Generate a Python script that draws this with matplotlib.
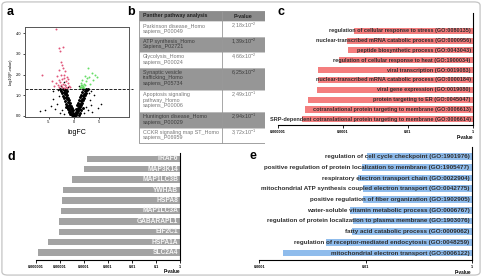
import matplotlib
matplotlib.use('Agg')
import matplotlib.pyplot as plt
from matplotlib.patches import Rectangle, FancyBboxPatch

plt.rcParams['font.family'] = ['Liberation Sans', 'DejaVu Sans']
plt.rcParams['mathtext.fontset'] = 'custom'
plt.rcParams['mathtext.rm'] = 'Liberation Sans'

W, H = 482, 277

# ---- a: volcano plot
black_x = [-0.2, -0.4, -0.6, -0.3, -0.8, -0.5, -1.0, -0.7, -1.2, -0.9, -1.4, -0.6, -1.1, -1.6, -0.8, -1.3,
           -1.8, -1.0, -1.5, -2.0, -1.2, -1.7, -2.2, -1.4, -1.9, -2.4, -1.6, -2.1, -2.6, -1.8, -2.3, -2.8,
           -1.5, -2.0, -0.3, -0.5, -1.1, -1.3, -0.9, -1.6,
           0.2, 0.4, 0.6, 0.3, 0.8, 0.5, 1.0, 0.7, 1.2, 0.9, 1.4, 0.6, 1.1, 1.6, 0.8, 1.3,
           1.8, 1.0, 1.5, 2.0, 1.2, 1.7, 2.2, 1.4, 1.9, 2.4, 1.6, 2.1, 2.6, 1.8, 2.3, 2.8,
           0.1, -0.1, 0.0, 0.3, 1.1, 1.4, 0.9, 1.7]
black_y = [0.02, 0.05, 0.10, 0.15, 0.20, 0.25, 0.30, 0.35, 0.40, 0.45, 0.50, 0.50, 0.55, 0.60, 0.62, 0.68,
           0.72, 0.75, 0.80, 0.85, 0.88, 0.92, 0.98, 1.00, 1.05, 1.10, 1.12, 1.18, 1.22, 1.25, 1.28, 1.30,
           1.20, 1.30, 0.30, 0.40, 0.20, 0.35, 0.10, 0.45,
           0.03, 0.06, 0.12, 0.18, 0.22, 0.28, 0.32, 0.38, 0.42, 0.48, 0.52, 0.55, 0.58, 0.62, 0.65, 0.70,
           0.75, 0.78, 0.82, 0.88, 0.90, 0.95, 1.00, 1.02, 1.08, 1.12, 1.15, 1.20, 1.25, 1.28, 1.30, 1.32,
           0.08, 0.10, 0.00, 0.35, 0.15, 0.30, 0.05, 0.40]
scatter_x = [-5.8, -4.3, -4.2, -4.6, 4.7, 3.1, 3.9, 2.7, -3.5, -3.0, -3.8, -2.9, 3.4, 2.9, 3.6, -1.8,
             -2.1, -2.6, -1.2, 1.0, -6.8, 5.4, -3.3, 3.3, -2.4, 2.3, -2.0, 2.0]
scatter_y = [0.29, 0.82, 1.20, 0.47, 0.37, 0.77, 0.99, 0.29, 0.60, 0.95, 0.35, 0.15, 0.55, 1.10, 0.20, 1.49,
             1.65, 1.45, 1.40, 1.45, 0.25, 0.60, 1.25, 1.20, 0.30, 0.45, 0.10, 0.15]
red_x = [-3.6, -3.1, -2.3, -2.9, -6.4, -2.5, -2.2, -3.0, -1.8, -2.7, -3.4, -1.5, -2.0, -2.4, -3.1, -1.7,
         -2.8, -1.3, -2.2, -3.6, -1.9, -2.6, -1.1, -1.6, -2.4, -3.0, -1.4, -2.0, -4.0, -3.3, -1.2, -0.9,
         -2.6, -2.1, -4.4]
red_y = [4.18, 3.29, 3.35, 3.15, 1.98, 2.45, 2.30, 2.20, 2.15, 2.00, 1.95, 1.90, 1.85, 1.80, 1.75, 1.70,
         1.65, 1.60, 1.55, 1.60, 1.50, 1.48, 1.45, 1.42, 1.40, 1.38, 1.36, 1.35, 1.45, 1.50, 1.80, 1.38,
         2.60, 2.00, 1.70]
green_x = [1.2, 1.4, 1.6, 1.8, 1.3, 1.5, 1.7, 2.0, 1.1, 1.9, 2.2, 1.4, 2.4, 3.0, 3.5, 2.8, 4.2, 2.6,
           3.8, 2.1, 1.6, 4.6, 3.2]
green_y = [1.35, 1.40, 1.38, 1.42, 1.48, 1.52, 1.45, 1.36, 1.42, 1.55, 1.50, 1.60, 1.70, 1.90, 2.10, 2.30,
           2.00, 1.85, 1.75, 1.95, 1.75, 1.90, 1.55]
p_cut = 1.3

# ---- b: table
pathways = ['Parkinson disease_Homo\nsapiens_P00049', 'ATP synthesis_Homo\nSapiens_P02721',
            'Glycolysis_Homo\nsapiens_P00024', 'Synaptic vesicle\ntrafficking_Homo\nsapiens_P05734',
            'Apoptosis signaling\npathway_Homo\nsapiens_P00006', 'Huntington disease_Homo\nsapiens_P00029',
            'CCKR signaling map ST_Homo\nsapiens_P06959']
path_p = ['2,18x10$^{\\mathregular{-2}}$', '1,39x10$^{\\mathregular{-2}}$', '4,66x10$^{\\mathregular{-2}}$',
          '6,25x10$^{\\mathregular{-2}}$', '2,49x10$^{\\mathregular{-1}}$', '2,94x10$^{\\mathregular{-1}}$',
          '3,72x10$^{\\mathregular{-1}}$']

# ---- c: GO terms (red)
c_terms = ['regulation of cellular response to stress (GO:0080135)',
           'nuclear-transcribed mRNA catabolic process (GO:0000956)',
           'peptide biosynthetic process (GO:0043043)',
           'regulation of cellular response to heat (GO:1900034)',
           'viral transcription (GO:0019083)',
           'nuclear-transcribed mRNA catabolic process (GO:0000184)',
           'viral gene expression (GO:0019080)',
           'protein targeting to ER (GO:0045047)',
           'cotranslational protein targeting to membrane (GO:0006613)',
           'SRP-dependent cotranslational protein targeting to membrane (GO:0006614)']
c_pvals = [2.2e-4, 1.3e-4, 1.4e-4, 7.8e-5, 1.7e-5, 1.65e-5, 1.55e-5, 8.5e-6, 6.9e-6, 5.6e-6]

# ---- d: genes (gray)
d_genes = ['TRAF6', 'MAP3K14', 'MAP1LC3B', 'YWHAB', 'HSPA8', 'MAP1LC3A', 'GABARAPL1', 'EIF2C1', 'HSPA1A', 'SLC2A4']
d_pvals = [1.4e-4, 1.05e-4, 3.1e-5, 1.3e-5, 1.25e-5, 1.1e-5, 9.5e-6, 9.3e-6, 3.3e-6, 1.25e-6]

# ---- e: GO terms (blue)
e_terms = ['regulation of cell cycle checkpoint (GO:1901976)',
           'positive regulation of protein localization to membrane (GO:1905477)',
           'respiratory electron transport chain (GO:0022904)',
           'mitochondrial ATP synthesis coupled electron transport (GO:0042775)',
           'positive regulation of fiber organization (GO:1902905)',
           'water-soluble vitamin metabolic process (GO:0006767)',
           'regulation of protein localization to plasma membrane (GO:1903076)',
           'fatty acid catabolic process (GO:0009062)',
           'regulation of receptor-mediated endocytosis (GO:0048259)',
           'mitochondrial electron transport (GO:0006122)']
e_pvals = [1.05e-2, 8.5e-3, 7.2e-3, 9.1e-3, 8.9e-3, 5.1e-3, 5.9e-3, 5.6e-3, 1.8e-3, 2.8e-4]


def px_axes(fig, x0, y0, x1, y1):
    return fig.add_axes([x0 / W, 1 - y1 / H, (x1 - x0) / W, (y1 - y0) / H])


fig = plt.figure(figsize=(W / 100, H / 100), dpi=100)
fig.patches.append(FancyBboxPatch((0.004, 0.007), 0.992, 0.986, boxstyle='round,pad=0,rounding_size=0.012',
                                  transform=fig.transFigure, fill=False, ec='#c4c4c4', lw=0.9))

for lab, x, y in [('a', 10, 12), ('b', 131, 12), ('c', 281, 12), ('d', 11.5, 156.5), ('e', 253, 156)]:
    fig.text(x / W, 1 - y / H, lab, fontsize=9, fontweight='bold', ha='center', va='center')

# a
ax = px_axes(fig, 25, 27, 129.3, 117)
ax.scatter(black_x, black_y, s=4.5, c='black', lw=0)
ax.scatter(scatter_x, scatter_y, s=1.4, c='black', lw=0)
ax.scatter(red_x, red_y, s=2, c='#e0557a', lw=0)
ax.scatter(green_x, green_y, s=2, c='#66dd66', lw=0)
ax.axhline(p_cut, xmax=1.04, ls='--', color='black', lw=0.6, clip_on=False)
ax.set_xlim(-9.8, 11.05)
ax.set_ylim(-0.05, 4.3)
ax.set_xticks([-5, 0, 5])
ax.set_xticklabels(['-5', '0', '5'])
ax.set_yticks([0, 1, 2, 3, 4])
ax.set_yticklabels(['0.0', '1.0', '2.0', '3.0', '4.0'])
ax.tick_params(labelsize=2.8, length=1.5, width=0.5, pad=1)
for s in ax.spines.values():
    s.set_linewidth(0.7)
    s.set_color('#555555')
ax.set_xlabel('logFC', fontsize=5, labelpad=3)
ax.set_ylabel('-log10(P-value)', fontsize=2.8, labelpad=2)

# b
ax = px_axes(fig, 139, 11, 265, 144)
ax.set_xlim(0, 126)
ax.set_ylim(133, 0)
ax.axis('off')
col_split = 83
row_h = [15.5 if p.count('\n') == 1 else 22.3 for p in pathways]
ax.add_patch(Rectangle((0, 0), 126, 10, fc='#8c8c8c', ec='none'))
ax.text(4, 5, 'Panther pathway analysis', fontsize=3.8, fontweight='bold', color='#222222', va='center')
ax.text((col_split + 126) / 2, 5, 'P-value', fontsize=3.8, fontweight='bold', color='#222222',
        va='center', ha='center')
top = 10
for i, (name, pv, h) in enumerate(zip(pathways, path_p, row_h)):
    shaded = i % 2 == 1
    ax.add_patch(Rectangle((0, top), 126, h, fc='#969696' if shaded else 'white', ec='#bbbbbb', lw=0.4))
    tc = '#3c3c3c' if shaded else '#777777'
    ax.text(4, top + 2.2, name, fontsize=3.9, color=tc, va='top', linespacing=1.15)
    ax.text((col_split + 126) / 2, top + 4.5, pv, fontsize=3.9, color=tc, va='center', ha='center')
    top += h
ax.plot([col_split, col_split], [0, top], color='#999999', lw=0.6)
ax.add_patch(Rectangle((0, 0), 126, top, fill=False, ec='#999999', lw=0.6))


def bar_panel(ax, labels, pvals, color, lo, fs, tcolor, weight, ticklabels):
    ys = list(range(len(labels)))
    ax.barh(ys, [1 - p for p in pvals], left=pvals, height=0.62, color=color)
    ax.set_xscale('log')
    ax.set_xlim(lo, 1)
    for y, t in zip(ys, labels):
        ax.annotate(t, (1, y), xytext=(-1.6, 0), textcoords='offset points', ha='right', va='center',
                    fontsize=fs, color=tcolor, fontweight=weight)
    ax.set_yticks([])
    ax.minorticks_off()
    ax.spines['top'].set_visible(False)
    ax.spines['left'].set_visible(False)
    ax.spines['right'].set_linewidth(0.8)
    ax.spines['bottom'].set_linewidth(0.8)
    ax.set_xticks([float(t) for t in ticklabels])
    ax.set_xticklabels(ticklabels)
    ax.tick_params(axis='x', labelsize=2.7, length=2, width=0.6, pad=1.5)
    for tl in ax.get_xticklabels():
        tl.set_fontweight('bold')
    ax.text(1, -0.085, 'P-value', transform=ax.transAxes, ha='right', va='top', fontsize=3.3,
            fontweight='bold')


# c
ax = px_axes(fig, 278, 13, 473, 125)
bar_panel(ax, c_terms, c_pvals, '#f47e7e', 1e-6, 4.0, '#2e2e2e', 'bold',
          ['0.000001', '0.0001', '0.01', '1'])
ax.set_ylim(9.58, -1.8)

# d
ax = px_axes(fig, 35.7, 153, 180.3, 260)
bar_panel(ax, d_genes, d_pvals, '#a3a3a3', 1e-6, 4.8, '#f4f4f4', 'bold',
          ['0.000001', '0.00001', '0.0001', '0.001', '0.01', '0.1', '1'])
ax.set_ylim(9.7, -0.55)

# e
ax = px_axes(fig, 259.3, 147, 471.7, 260)
bar_panel(ax, e_terms, e_pvals, '#8fbcec', 1e-4, 4.5, '#2e2e2e', 'bold',
          ['0.0001', '0.01', '1'])
ax.set_ylim(9.65, -0.9)

fig.savefig('out.png', dpi=100)
